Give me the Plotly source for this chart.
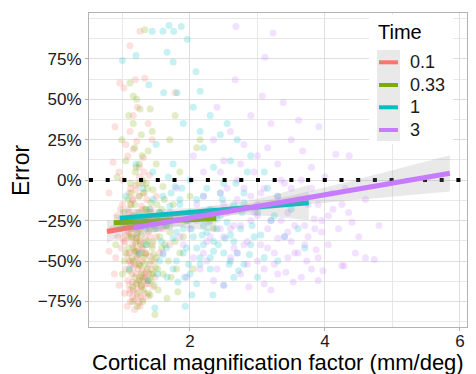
import plotly.graph_objects as go

# ---------------- data ----------------
times = ["0.1", "0.33", "1", "3"]
colors = ["#F8766D", "#7CAE00", "#00BFC4", "#C77CFF"]

red_x = [1.26,1.11,0.96,1.02,1.19,1.33,1.78,0.89,1.16,1.11,1.21,1.44,0.86,1.16,1.31,1.38,1.05,1.25,0.95,1.40,1.30,1.12,0.80,1.50,
         1.00,1.08,1.15,1.22,1.28,1.35,1.42,1.18,1.05,0.92,1.25,1.32,1.12,1.20,1.38,1.46,0.85,1.02,1.15,1.28,1.10,1.35,0.98,1.22,
         1.18,1.30,1.05,1.40,1.14,1.25,1.33,1.20,1.08,1.28,1.16,1.36,1.22,1.12,1.30,1.18,1.26,1.03,0.90,0.80,0.88,0.95,1.44,1.50,
         1.55,1.60,1.48,1.65,1.10,1.20,1.32,1.00,1.24,1.14,1.06,1.27,1.34,1.19,1.09,1.41,1.23,1.15,1.31,1.21,1.27,1.11,1.17,1.29,
         1.13,0.98,1.36,1.70,1.08,1.22,0.93,1.45,1.38,1.07,
         1.10,1.14,1.18,1.22,1.26,1.30,1.34,1.12,1.16,1.20,1.24,1.28,1.32,1.36,1.09,1.13,1.17,1.21,1.25,1.29,1.33,1.37,
         1.11,1.15,1.19,1.23,1.27,1.31,1.35,1.07,1.41,1.43,1.04,1.47,1.52,1.20,1.25,1.15,1.30,1.10,1.35,1.18,1.28,1.22,
         1.13,1.32,0.97,1.01,1.39,1.24]
red_y = [92,83,60,57,62,63,54,33,40,30,24,25,11,19,14,35,22,8,5,3,-2,-5,-8,-10,
         -15,-18,-12,-20,-16,-22,-18,-25,-28,-22,-30,-27,-33,-36,-32,-28,-30,-38,-40,-42,-45,-45,-42,-48,
         -52,-50,-55,-52,-58,-60,-58,-64,-62,-66,-68,-64,-72,-75,-74,-80,-78,-70,-48,-44,-58,-65,-40,-35,
         -45,-30,-60,-22,-8,-3,5,0,-10,-22,-34,-38,-36,-44,-50,-47,-55,-63,-62,-68,-72,-70,-26,-24,
         -15,-25,-12,-40,15,45,-35,-66,-72,-78,
         -20,-24,-30,-34,-38,-42,-46,-50,-54,-58,-62,-66,-70,-26,-32,-36,-44,-48,-52,-56,-60,-64,
         -68,-72,-40,-44,-30,-22,-56,-46,-35,-55,-38,-50,-25,-6,2,-12,-18,-65,-60,-74,-45,-27,
         -52,-8,-18,-36,-58,-76]

green_x = [1.33,1.11,1.16,1.21,1.26,1.41,1.78,0.99,1.16,1.70,2.15,2.10,1.28,1.05,1.38,1.20,1.50,0.92,1.12,1.30,1.45,1.60,1.85,2.00,
           1.08,1.18,1.25,1.35,1.42,1.55,1.02,1.15,1.22,1.32,1.40,1.48,1.65,1.75,1.95,2.20,2.35,0.95,1.10,1.20,1.28,1.36,1.45,1.58,
           1.05,1.14,1.24,1.33,1.42,1.52,1.68,1.85,1.10,1.18,1.28,1.38,1.47,1.53,1.41,1.66,1.82,1.48,1.22,1.30,1.15,1.00,0.90,1.25,
           1.13,1.37,1.62,1.90,2.05,1.72,1.19,1.29,1.44,1.09,1.55,1.34,1.26,1.16,1.06,1.39,1.50,1.60,1.21,1.31,1.43,1.12,1.24,1.78,
           1.12,1.17,1.22,1.27,1.32,1.37,1.42,1.47,1.14,1.19,1.24,1.29,1.34,1.39,1.44,1.49,1.11,1.16,1.21,1.26,
           1.31,1.36,1.41,1.46,1.56,1.63,1.70,1.08,1.03,1.51,1.25,1.35,1.18,1.28,1.45,1.15,1.22,1.38,1.58,1.80]
green_y = [93,60,52,50,44,44,40,25,35,25,25,20,28,12,18,8,10,2,-2,0,-6,-4,5,-10,
           -12,-15,-10,-18,-14,-20,-20,-24,-28,-25,-30,-26,-28,-15,-25,-20,-30,-30,-35,-38,-34,-40,-38,-42,
           -45,-48,-46,-52,-50,-55,-50,-45,-56,-60,-58,-62,-65,-68,-71,-73,-69,-83,-70,-75,-66,-58,-40,-20,
           -8,-5,-12,-35,-55,-60,5,15,30,40,-35,-45,-53,-42,-28,-24,-48,-58,-64,-68,-58,-30,-2,-38,
           -15,-22,-32,-40,-48,-55,-62,-30,-35,-44,-52,-60,-18,-26,-42,-54,-28,-50,-36,-62,
           -8,-38,-20,-46,-25,-40,-32,-42,-50,-15,10,-2,20,-65,-58,-75,-78,-70,-18,-55]

cyan_x = [1.69,1.60,1.76,1.87,1.44,1.96,1.66,1.75,1.20,2.09,1.39,1.61,1.81,1.00,2.15,2.30,2.05,2.55,2.45,1.90,2.70,2.20,1.50,2.60,
          2.35,1.75,2.90,3.10,2.00,1.30,2.50,2.80,1.60,1.85,2.10,2.30,2.65,3.00,3.30,1.40,1.70,1.95,2.20,2.45,2.75,3.20,3.50,1.50,
          1.80,2.05,2.35,2.60,2.90,3.40,1.35,1.65,1.90,2.15,2.50,2.80,3.10,1.55,1.75,2.00,2.30,2.65,1.66,1.82,2.10,2.03,2.34,1.93,
          1.48,2.50,1.25,1.15,1.05,1.45,1.20,2.25,1.58,2.40,2.70,3.00,3.60,1.72,2.85,2.95,3.30,3.70,2.15,1.10,1.38,2.58,1.98,2.20,
          1.88,1.62,2.48,2.77,3.15,
          1.55,1.65,1.75,1.85,1.95,2.05,2.15,2.25,2.35,2.45,2.55,2.65,1.60,1.70,1.80,1.90,2.00,2.10,2.20,2.30,
          2.40,2.60,2.80,1.52,1.78,2.02,2.28,2.52,2.72,2.92,1.68,1.92,2.18,2.42,2.68,3.05,1.45,2.88,3.25,1.35]
cyan_y = [95.6,92,92,95,92,87,79,73,77,67,59,54,54,74,55,40,45,35,28,35,25,20,22,12,
          8,10,15,5,0,-5,-2,-8,-10,-15,-12,-18,-15,-20,-10,-18,-22,-25,-28,-22,-30,-25,-18,-30,
          -32,-35,-38,-34,-40,-35,-40,-42,-45,-48,-45,-52,-48,-50,-55,-58,-55,-60,-60,-63,-64,-71,-71,-78,
          -79,-65,-45,-25,-10,5,10,-5,-38,-30,-45,-60,-30,-8,5,-35,-50,-42,30,-55,-62,-52,-52,-40,
          -5,-26,-12,-20,-5,
          -20,-28,-36,-12,-42,-22,-52,-32,-44,-8,-26,-38,-46,-16,-50,-30,-20,-42,-10,-48,
          -24,-50,-14,-58,-4,-30,-26,-36,-56,-28,2,-60,-34,-40,-2,-34,-12,-46,-22,-30]

purple_x = [2.68,3.23,3.11,2.67,3.07,3.38,3.91,3.61,4.36,4.16,3.67,2.40,2.90,3.20,2.60,3.50,2.80,3.00,3.30,2.50,3.80,4.00,2.20,2.70,
            3.40,3.10,4.30,2.45,2.90,3.60,2.10,3.25,3.90,4.12,2.60,3.00,3.45,3.84,4.40,2.30,2.75,3.15,3.55,3.95,2.00,2.50,2.85,3.30,
            3.70,3.87,4.25,4.73,4.28,3.97,3.53,3.10,2.87,3.73,3.42,2.20,2.60,3.00,3.25,2.40,2.75,1.90,1.70,1.80,2.05,1.60,2.35,3.20,
            4.05,4.50,4.60,4.80,3.50,2.95,3.65,2.25,2.55,3.35,2.15,4.20,3.80,2.65,3.05,3.45,1.95,2.80,2.35,3.75,4.10,2.50,3.55,3.15,
            2.95,2.10,1.55,2.45,3.90,4.45,3.30,2.70,
            2.20,2.40,2.60,2.80,3.00,3.20,3.40,3.60,3.80,2.30,2.50,2.70,2.90,3.10,3.30,3.50,3.70,3.90,2.25,2.55,
            2.85,3.15,3.45,3.75,4.05,2.15,2.45,2.75,3.05,3.35,3.65,3.95,4.25,2.65,3.25,3.85,2.05,4.35,4.60,1.85]
purple_y = [95,91,76,62,52,48,33,37,15,16,18,45,40,35,30,25,22,15,10,12,8,2,5,0,
            -2,-5,-5,-8,-10,-12,-15,-15,-15,-18,-18,-22,-20,-24,-26,-25,-28,-30,-28,-32,-30,-35,-38,-36,
            -40,-43,-53,-49,-53,-56,-63,-64,-66,-50,-57,-45,-48,-50,-45,-55,-58,-40,-20,-5,15,-45,-62,-68,
            -40,-35,-12,-28,-5,5,0,-38,-20,-25,-55,-30,-55,-42,-40,-48,-60,-5,25,-35,-8,-65,-45,20,
            -20,-25,-30,-30,-62,-45,-58,-12,
            -10,-20,-30,-40,-15,-25,-35,-45,-5,-35,-15,-45,-25,-55,-10,-38,-28,-48,-50,-5,
            -52,-42,-32,-15,-22,-20,5,10,-8,0,-60,-25,-15,-28,-52,-30,-48,-20,-48,-35]

points_x = [red_x, green_x, cyan_x, purple_x]
points_y = [red_y, green_y, cyan_y, purple_y]

# linear fits (start/end of each fitted line)
fit_x0 = [0.77, 0.87, 0.96, 1.16]
fit_x1 = [1.75, 2.39, 3.76, 5.85]
fit_y0 = [-31.8, -26.3, -23.5, -29.4]
fit_y1 = [-24.8, -23.8, -14.0, 4.2]

# confidence bands
band_x = [
    [0.77, 1.0, 1.25, 1.5, 1.75],
    [0.87, 1.25, 1.8, 2.39],
    [0.96, 1.5, 2.1, 2.8, 3.3, 3.76],
    [1.16, 2.0, 2.8, 3.5, 4.2, 5.0, 5.85],
]
band_lo = [
    [-38.8, -34.2, -30.9, -30.1, -30.8],
    [-31.3, -28.1, -28.7, -31.8],
    [-29.5, -25.2, -22.1, -21.3, -22.6, -25.0],
    [-35.4, -26.9, -20.2, -15.9, -13.0, -10.1, -7.0],
]
band_hi = [
    [-24.8, -26.2, -25.9, -23.1, -18.8],
    [-21.3, -23.1, -20.7, -15.8],
    [-17.5, -18.2, -17.1, -13.3, -8.6, -3.0],
    [-23.4, -19.9, -15.2, -9.5, -2.6, 5.9, 15.4],
]

x_range = [0.504, 6.104]
y_range = [-90.8, 103.3]
y_ticks = [-75, -50, -25, 0, 25, 50, 75]
y_ticklabels = ["\u221275%", "\u221250%", "\u221225%", "0%", "25%", "50%", "75%"]
y_minor = [-87.5, -62.5, -37.5, -12.5, 12.5, 37.5, 62.5, 87.5, 100]
x_ticks = [2, 4, 6]
x_ticklabels = ["2", "4", "6"]
x_minor = [1, 3, 5]

# ---------------- figure ----------------
W, H = 476, 374
L, R, T, B = 89, 9, 13, 47
PW, PH = W - L - R, H - T - B


def px(x):
    return (x - L) / PW


def py(y):
    return (H - B - y) / PH


fig = go.Figure()

for i in range(4):
    fig.add_trace(go.Scatter(
        x=points_x[i], y=points_y[i], mode="markers",
        marker=dict(size=7, color=colors[i], opacity=0.22, line=dict(width=0)),
        showlegend=False, hoverinfo="skip"))

fig.add_trace(go.Scatter(
    x=x_range, y=[0, 0], mode="lines",
    line=dict(color="black", width=4, dash="4px,12.7px"),
    showlegend=False, hoverinfo="skip"))

for i in range(4):
    fig.add_trace(go.Scatter(
        x=band_x[i] + band_x[i][::-1], y=band_hi[i] + band_lo[i][::-1],
        mode="lines", fill="toself", fillcolor="rgba(153,153,153,0.22)",
        line=dict(width=0), showlegend=False, hoverinfo="skip"))
    fig.add_trace(go.Scatter(
        x=[fit_x0[i], fit_x1[i]], y=[fit_y0[i], fit_y1[i]], mode="lines",
        line=dict(color=colors[i], width=5), name=times[i], showlegend=False))

axis_common = dict(
    showline=True, mirror=True, linecolor="#B3B3B3", linewidth=1,
    showgrid=True, gridcolor="#DEDEDE", gridwidth=1, zeroline=False,
    ticks="outside", ticklen=3, tickcolor="#B3B3B3",
    tickfont=dict(size=17, color="#1A1A1A"),
)
fig.update_xaxes(range=x_range, tickmode="array", tickvals=x_ticks, ticktext=x_ticklabels,
                 ticklabelstandoff=-4,
                 minor=dict(tickmode="array", tickvals=x_minor, showgrid=True,
                            gridcolor="#E8E8E8", gridwidth=1, ticks=""),
                 **axis_common)
fig.update_yaxes(range=y_range, tickmode="array", tickvals=y_ticks, ticktext=y_ticklabels,
                 minor=dict(tickmode="array", tickvals=y_minor, showgrid=True,
                            gridcolor="#E8E8E8", gridwidth=1, ticks=""),
                 **axis_common)

shapes = []
annotations = []
# legend box
shapes.append(dict(type="rect", xref="paper", yref="paper", layer="above",
                   x0=px(369), x1=px(453), y0=py(144), y1=py(15),
                   fillcolor="white", line=dict(width=0)))
shapes.append(dict(type="rect", xref="paper", yref="paper", layer="above",
                   x0=px(377), x1=px(400), y0=py(141), y1=py(50),
                   fillcolor="#E9E9E9", line=dict(width=0)))
key_y = [62.3, 85, 107.3, 130]
for i in range(4):
    shapes.append(dict(type="line", xref="paper", yref="paper", layer="above",
                       x0=px(379), x1=px(398), y0=py(key_y[i]), y1=py(key_y[i]),
                       line=dict(color=colors[i], width=4)))
    annotations.append(dict(text=times[i], xref="paper", yref="paper",
                            x=px(408), y=py(key_y[i]), xanchor="left", yanchor="middle",
                            showarrow=False, font=dict(size=18, color="#1A1A1A")))
annotations.append(dict(text="Time", xref="paper", yref="paper",
                        x=px(376), y=py(32), xanchor="left", yanchor="middle",
                        showarrow=False, font=dict(size=20, color="black")))
annotations.append(dict(text="Cortical magnification factor (mm/deg)", xref="paper", yref="paper",
                        x=px(277.5), y=py(362.2), xanchor="center", yanchor="middle",
                        showarrow=False, font=dict(size=22, color="black")))
annotations.append(dict(text="Error", xref="paper", yref="paper", textangle=-90,
                        x=px(21), y=py(171), xanchor="center", yanchor="middle",
                        showarrow=False, font=dict(size=23, color="black")))

fig.update_layout(
    width=W, height=H,
    margin=dict(l=L, r=R, t=T, b=B, pad=0),
    plot_bgcolor="white", paper_bgcolor="white",
    font=dict(family="Liberation Sans, Arial, sans-serif"),
    showlegend=False,
    shapes=shapes, annotations=annotations,
)

fig.write_html("out.html", config={"displayModeBar": False},
               post_script="document.body.style.margin='0px';")
